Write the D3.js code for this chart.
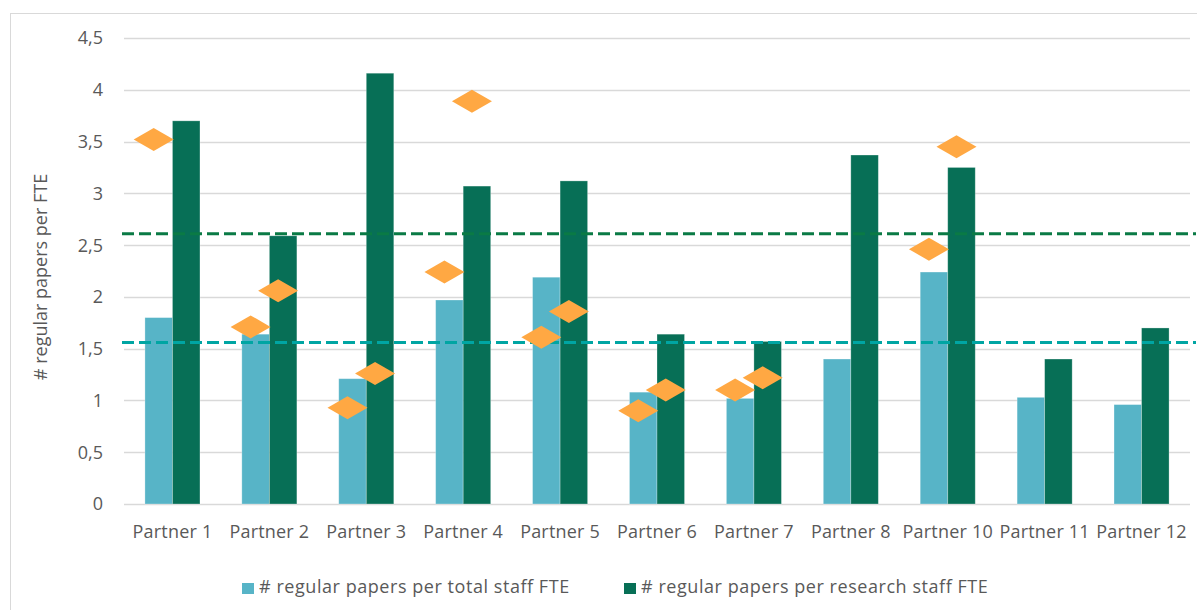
<!DOCTYPE html>
<html><head><meta charset="utf-8">
<script src="https://cdn.jsdelivr.net/npm/d3@7"></script>
<style>body{margin:0;background:#fff}text{font-family:"Open Sans",Lato,sans-serif;fill:#595959}</style>
</head><body><svg id="c" width="1197" height="610"></svg>
<script>
const categories = ["Partner 1","Partner 2","Partner 3","Partner 4","Partner 5","Partner 6","Partner 7","Partner 8","Partner 10","Partner 11","Partner 12"];
const totalStaff = [1.80,1.64,1.21,1.97,2.19,1.08,1.02,1.40,2.24,1.03,0.96];
const researchStaff = [3.70,2.59,4.16,3.07,3.12,1.64,1.57,3.37,3.25,1.40,1.70];
const diamondsLeft = [3.52,1.71,0.93,2.24,1.61,0.90,1.10,null,2.46,null,null];
const diamondsRight = [null,2.06,1.26,3.89,1.86,1.10,1.22,null,3.45,null,null];
const avgTotal = 1.56;
const avgResearch = 2.61;
const yTicks = [0,0.5,1,1.5,2,2.5,3,3.5,4,4.5];
const seriesNames = ["# regular papers per total staff FTE","# regular papers per research staff FTE"];
const colors = ["#57B4C7","#076F56"];

const svg = d3.select("#c");
const L=124,R=1190,T=38,B=504;
svg.append("rect").attr("x",10.5).attr("y",13.5).attr("width",1200).attr("height",610).attr("fill","none").attr("stroke","#D9D9D9");
const x = d3.scaleBand().domain(categories).range([L,R]).paddingInner(0.432).paddingOuter(0.216);
const y = d3.scaleLinear().domain([0,4.5]).range([B,T]);
const xs = d3.scaleBand().domain([0,1]).range([0,x.bandwidth()]);

svg.append("g").selectAll("line").data(yTicks).join("line")
 .attr("x1",L).attr("x2",R).attr("y1",d=>Math.round(y(d))+0.5).attr("y2",d=>Math.round(y(d))+0.5)
 .attr("stroke","#D9D9D9").attr("stroke-width",1.3);
svg.append("g").selectAll("text").data(yTicks).join("text")
 .attr("x",103).attr("y",d=>y(d)).attr("dy","0.36em").attr("text-anchor","end").attr("font-size",18)
 .text(d=>d3.format("")(d).replace(".",","));

const series=[totalStaff,researchStaff];
series.forEach((s,i)=>{
 svg.append("g").selectAll("rect").data(s).join("rect")
  .attr("x",(d,j)=>x(categories[j])+xs(i)).attr("width",xs.bandwidth())
  .attr("y",d=>y(d)).attr("height",d=>B-y(d)).attr("fill",colors[i])
  .attr("stroke","#fff").attr("stroke-opacity",0.35).attr("stroke-width",0.8);
});

svg.append("line").attr("x1",L-2).attr("x2",1196).attr("y1",y(avgResearch)).attr("y2",y(avgResearch))
 .attr("stroke","#0A7A45").attr("stroke-width",3).attr("stroke-dasharray","12,5");
svg.append("line").attr("x1",L-2).attr("x2",1196).attr("y1",y(avgTotal)).attr("y2",y(avgTotal))
 .attr("stroke","#00A5A3").attr("stroke-width",3).attr("stroke-dasharray","12,5");

const dpath="M-20,0L0,-11.5L20,0L0,11.5Z";
[diamondsLeft,diamondsRight].forEach((s,i)=>{
 svg.append("g").selectAll("path").data(s.map((v,j)=>({v,j})).filter(d=>d.v!=null)).join("path")
  .attr("d",dpath).attr("fill","#FFA843")
  .attr("transform",d=>`translate(${x(categories[d.j])+xs(i)+xs.bandwidth()/2-5},${y(d.v)})`);
});

svg.append("g").selectAll("text").data(categories).join("text")
 .attr("x",d=>x(d)+x.bandwidth()/2).attr("y",538).attr("text-anchor","middle").attr("font-size",18)
 .attr("letter-spacing",0.2).text(d=>d);

svg.append("text").attr("transform","translate(47,277) rotate(-90)").attr("text-anchor","middle").attr("font-size",18)
 .text("# regular papers per FTE");

const lx=[242,624];
seriesNames.forEach((n,i)=>{
 svg.append("rect").attr("x",lx[i]).attr("y",583).attr("width",12).attr("height",11).attr("fill",colors[i]);
 svg.append("text").attr("x",lx[i]+17).attr("y",593).attr("font-size",18).attr("letter-spacing",0.55).text(n);
});
</script></body></html>
